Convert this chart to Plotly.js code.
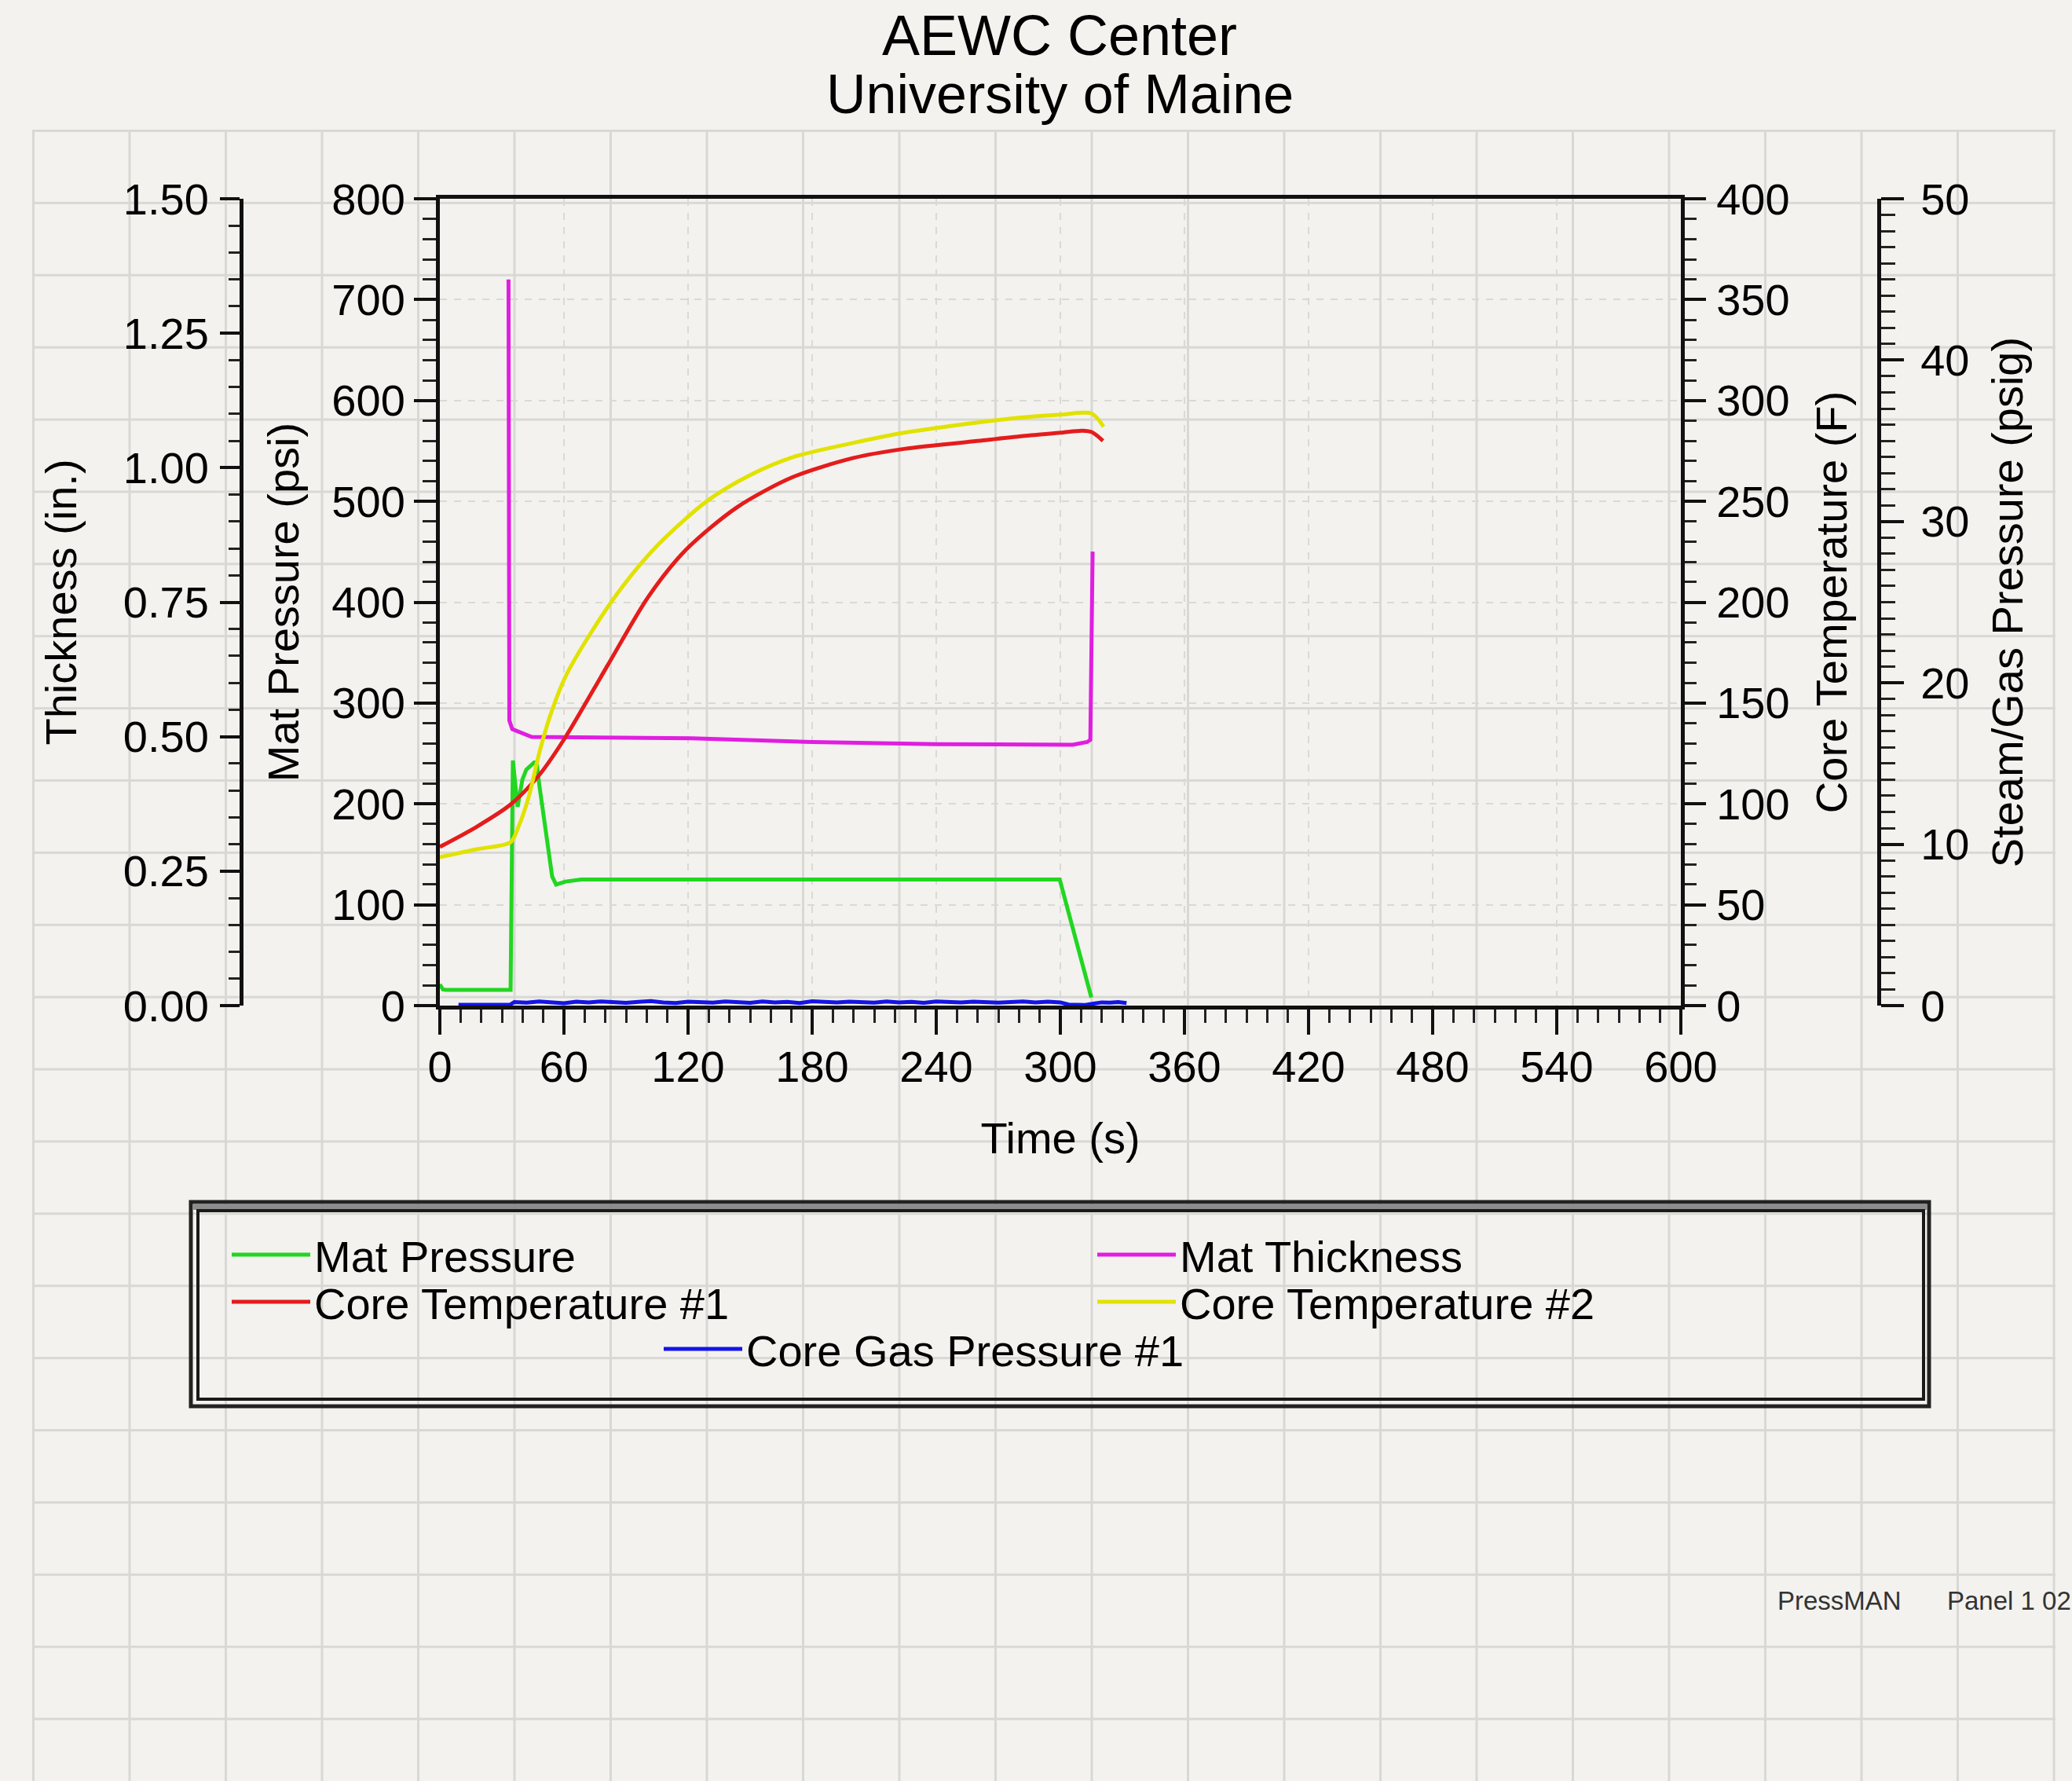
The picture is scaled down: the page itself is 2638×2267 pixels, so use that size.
<!DOCTYPE html>
<html>
<head>
<meta charset="utf-8">
<script src="https://cdn.plot.ly/plotly-3.0.1.min.js"></script>
<style>
html,body{margin:0;padding:0;background:#f3f2ef;}
#wrap{position:relative;width:2638px;height:2267px;overflow:hidden;background:#f3f2ef;}
#grid{position:absolute;left:40.5px;top:164.5px;width:2576px;height:2110px;
 background-image:linear-gradient(to right,#d8d8d5 0,#d8d8d5 3px,transparent 3px),linear-gradient(to bottom,#d8d8d5 0,#d8d8d5 3px,transparent 3px);
 background-size:122.5px 91.9px;}
#chart{position:absolute;left:0;top:0;width:2638px;height:2267px;}
</style>
</head>
<body>
<div id="wrap"><div id="grid"></div><div id="chart"></div></div>
<script>
// ---- data ----
const matPressureTime = [0, 1.5, 3, 20, 34.2, 35.3, 37.6, 39.9, 41.8, 45.6, 46.8, 48.2, 50.5, 54.3, 56.2, 60.8, 68.4, 120, 180, 240, 299.7, 315];
const matPressure     = [21, 16, 15.6, 15.6, 15.6, 243, 197, 224, 234, 241, 241, 217, 182, 128, 120, 123, 125, 125, 125, 125, 125, 8];

const matThicknessTime = [33.2, 33.6, 35.0, 44.4, 121.5, 180, 240, 274, 306, 313, 314.5, 315.6];
const matThickness     = [1.35, 0.53, 0.514, 0.4995, 0.497, 0.490, 0.486, 0.485, 0.485, 0.490, 0.494, 0.844];

const coreTemp1Time = [0, 17.7, 34.2, 48.2, 60.8, 80.9, 101, 119, 143.6, 170.6, 200, 224.5, 265.5, 281, 300, 310.7, 315.2, 320.6];
const coreTemp1     = [78.7, 88.6, 99.7, 114.5, 133.2, 168.3, 203, 226, 247, 262, 271.5, 276, 280.5, 282.3, 284, 285, 284.3, 280];

const coreTemp2Time = [0, 17.7, 34.2, 38, 43, 48.2, 53.2, 60.8, 73.4, 88.5, 106, 129, 150, 171, 200, 224.5, 265.5, 281, 300, 315.2, 320.9];
const coreTemp2     = [73.6, 77.5, 81, 88.6, 103.6, 125.8, 143.3, 163.2, 185.4, 208, 229, 250, 263, 272, 279, 284, 289.8, 291.5, 293, 293.5, 287];

const coreGasTime = [9,14,19,24,29,34,
  36,42,48,54,60,66,72,78,84,90,96,102,108,114,120,126,132,138,144,150,156,162,168,174,180,186,192,198,204,210,216,222,228,234,240,246,252,258,264,270,276,282,288,294,300,
  304,308,312,316,320,324,328,332];
const coreGas = [0.05,0.04,0.06,0.05,0.04,0.06,
  0.22,0.18,0.25,0.2,0.15,0.24,0.19,0.26,0.2,0.17,0.23,0.28,0.2,0.16,0.24,0.21,0.18,0.26,0.22,0.17,0.25,0.2,0.23,0.16,0.27,0.21,0.19,0.24,0.22,0.18,0.26,0.2,0.23,0.17,0.25,0.21,0.19,0.24,0.2,0.18,0.22,0.26,0.2,0.24,0.2,
  0.06,0.05,0.04,0.12,0.2,0.18,0.22,0.16];

const seriesNames = ['Mat Pressure','Mat Thickness','Core Temperature #1','Core Temperature #2','Core Gas Pressure #1'];
const titleLines = ['AEWC Center','University of Maine'];
const axisTitles = {time:'Time (s)', thick:'Thickness (in.)', press:'Mat Pressure (psi)', temp:'Core Temperature (F)', steam:'Steam/Gas Pressure (psig)'};
const footer = ['PressMAN','Panel 1 02'];

// ---- layout geometry ----
const W=2638, H=2267, ML=40, MR=40, MT=253, MB=987;
const PW=W-ML-MR, PH=H-MT-MB;
const px2x = px => (px-ML)/PW;
const py2y = py => (H-MB-py)/PH;
const FONT = 'Liberation Sans, Arial, Helvetica, sans-serif';

const traces = [
  {x:matPressureTime, y:matPressure, name:seriesNames[0], type:'scatter', mode:'lines', yaxis:'y', legend:'legend',
   line:{color:'#22d622', width:5}},
  {x:matThicknessTime, y:matThickness, name:seriesNames[1], type:'scatter', mode:'lines', yaxis:'y2', legend:'legend',
   line:{color:'#e01ee0', width:5}},
  {x:coreTemp1Time, y:coreTemp1, name:seriesNames[2], type:'scatter', mode:'lines', yaxis:'y3', legend:'legend2',
   line:{color:'#e41c1c', width:5, shape:'spline', smoothing:0.8}},
  {x:coreTemp2Time, y:coreTemp2, name:seriesNames[3], type:'scatter', mode:'lines', yaxis:'y3', legend:'legend2',
   line:{color:'#e2e200', width:5, shape:'spline', smoothing:0.8}},
  {x:coreGasTime, y:coreGas, name:seriesNames[4], type:'scatter', mode:'lines', yaxis:'y4', legend:'legend3',
   line:{color:'#1414e6', width:5}}
];

const ax = {showline:true, linecolor:'#111', linewidth:5, ticks:'outside', tickcolor:'#111', tickwidth:4,
  tickfont:{family:FONT, size:56, color:'#000'}, zeroline:false, showgrid:false, fixedrange:true};
const tfont = {family:FONT, size:56, color:'#000'};

const legBase = {xref:'container', yref:'container', xanchor:'left', yanchor:'middle', orientation:'h',
  font:{family:FONT, size:56, color:'#000'}, bgcolor:'rgba(0,0,0,0)', borderwidth:0,
  entrywidth:987, entrywidthmode:'pixels', itemwidth:100};

const layout = {
  width:W, height:H, margin:{l:ML, r:MR, t:MT, b:MB, pad:0},
  paper_bgcolor:'rgba(0,0,0,0)', plot_bgcolor:'rgba(0,0,0,0)',
  font:{family:FONT, color:'#000'},
  title:{text:titleLines[0], font:{family:FONT, size:72, color:'#000'}, xref:'container', yref:'container',
         x:1349/W, xanchor:'center', y:1-45/H, yanchor:'middle'},
  showlegend:true,
  xaxis:Object.assign({}, ax, {domain:[px2x(560), px2x(2140)], range:[0,600], dtick:60, tick0:0, ticklen:32,
    mirror:true, ticklabelstandoff:-7,
    minor:{ticks:'outside', dtick:10, ticklen:17, tickwidth:3, tickcolor:'#222', showgrid:false},
    showgrid:true, gridcolor:'#d9d9d6', griddash:'dash', gridwidth:2,
    title:{text:axisTitles.time, font:tfont, standoff:42}}),
  yaxis:Object.assign({}, ax, {range:[0,800], dtick:100, ticklen:28, mirror:false, ticklabelstandoff:0,
    minor:{ticks:'outside', dtick:20, ticklen:17, tickwidth:3, tickcolor:'#222', showgrid:false},
    showgrid:true, gridcolor:'#d9d9d6', griddash:'dash', gridwidth:2,
    title:{text:axisTitles.press, font:tfont, standoff:25}}),
  yaxis2:Object.assign({}, ax, {overlaying:'y', anchor:'free', side:'left', position:px2x(307),
    range:[0,1.5], dtick:0.25, tickformat:'.2f', ticklen:25, ticklabelstandoff:3,
    minor:{ticks:'outside', dtick:0.05, ticklen:14, tickwidth:3, tickcolor:'#222', showgrid:false},
    title:{text:axisTitles.thick, font:tfont, standoff:40}}),
  yaxis3:Object.assign({}, ax, {overlaying:'y', anchor:'x', side:'right',
    range:[0,400], dtick:50, ticklen:27, ticklabelstandoff:2,
    minor:{ticks:'outside', dtick:10, ticklen:15, tickwidth:3, tickcolor:'#222', showgrid:false},
    title:{text:axisTitles.temp, font:tfont, standoff:36}}),
  yaxis4:Object.assign({}, ax, {overlaying:'y', anchor:'free', side:'right', position:px2x(2392),
    range:[0,50], dtick:10, ticklen:29, ticklabelstandoff:10,
    minor:{ticks:'outside', dtick:1, ticklen:18, tickwidth:3, tickcolor:'#222', showgrid:false},
    title:{text:axisTitles.steam, font:tfont, standoff:29}}),
  legend:Object.assign({}, legBase, {x:290/W, y:1-1597/H}),
  legend2:Object.assign({}, legBase, {x:290/W, y:1-1657/H}),
  legend3:Object.assign({}, legBase, {x:840/W, y:1-1717/H}),
  annotations:[
    {text:titleLines[1], xref:'paper', yref:'paper', x:px2x(1349), y:py2y(120), xanchor:'center', yanchor:'middle',
     showarrow:false, font:{family:FONT, size:70, color:'#000'}},
    {text:footer[0], xref:'paper', yref:'paper', x:px2x(2261), y:py2y(2038), xanchor:'left', yanchor:'middle',
     showarrow:false, font:{family:FONT, size:33, color:'#333'}},
    {text:footer[1], xref:'paper', yref:'paper', x:px2x(2477), y:py2y(2038), xanchor:'left', yanchor:'middle',
     showarrow:false, font:{family:FONT, size:33, color:'#333'}}
  ],
  shapes:[
    {type:'rect', xref:'paper', yref:'paper', x0:px2x(243), x1:px2x(2456), y0:py2y(1530), y1:py2y(1790),
     line:{color:'#222', width:5}, fillcolor:'rgba(0,0,0,0)', layer:'below'},
    {type:'rect', xref:'paper', yref:'paper', x0:px2x(246), x1:px2x(2453), y0:py2y(1533), y1:py2y(1540),
     line:{width:0}, fillcolor:'#8c8c8c', layer:'below'},
    {type:'rect', xref:'paper', yref:'paper', x0:px2x(252), x1:px2x(2449), y0:py2y(1541), y1:py2y(1781),
     line:{color:'#1a1a1a', width:4}, fillcolor:'rgba(0,0,0,0)', layer:'below'}
  ]
};

Plotly.newPlot('chart', traces, layout, {staticPlot:true, displayModeBar:false});
</script>
</body>
</html>
